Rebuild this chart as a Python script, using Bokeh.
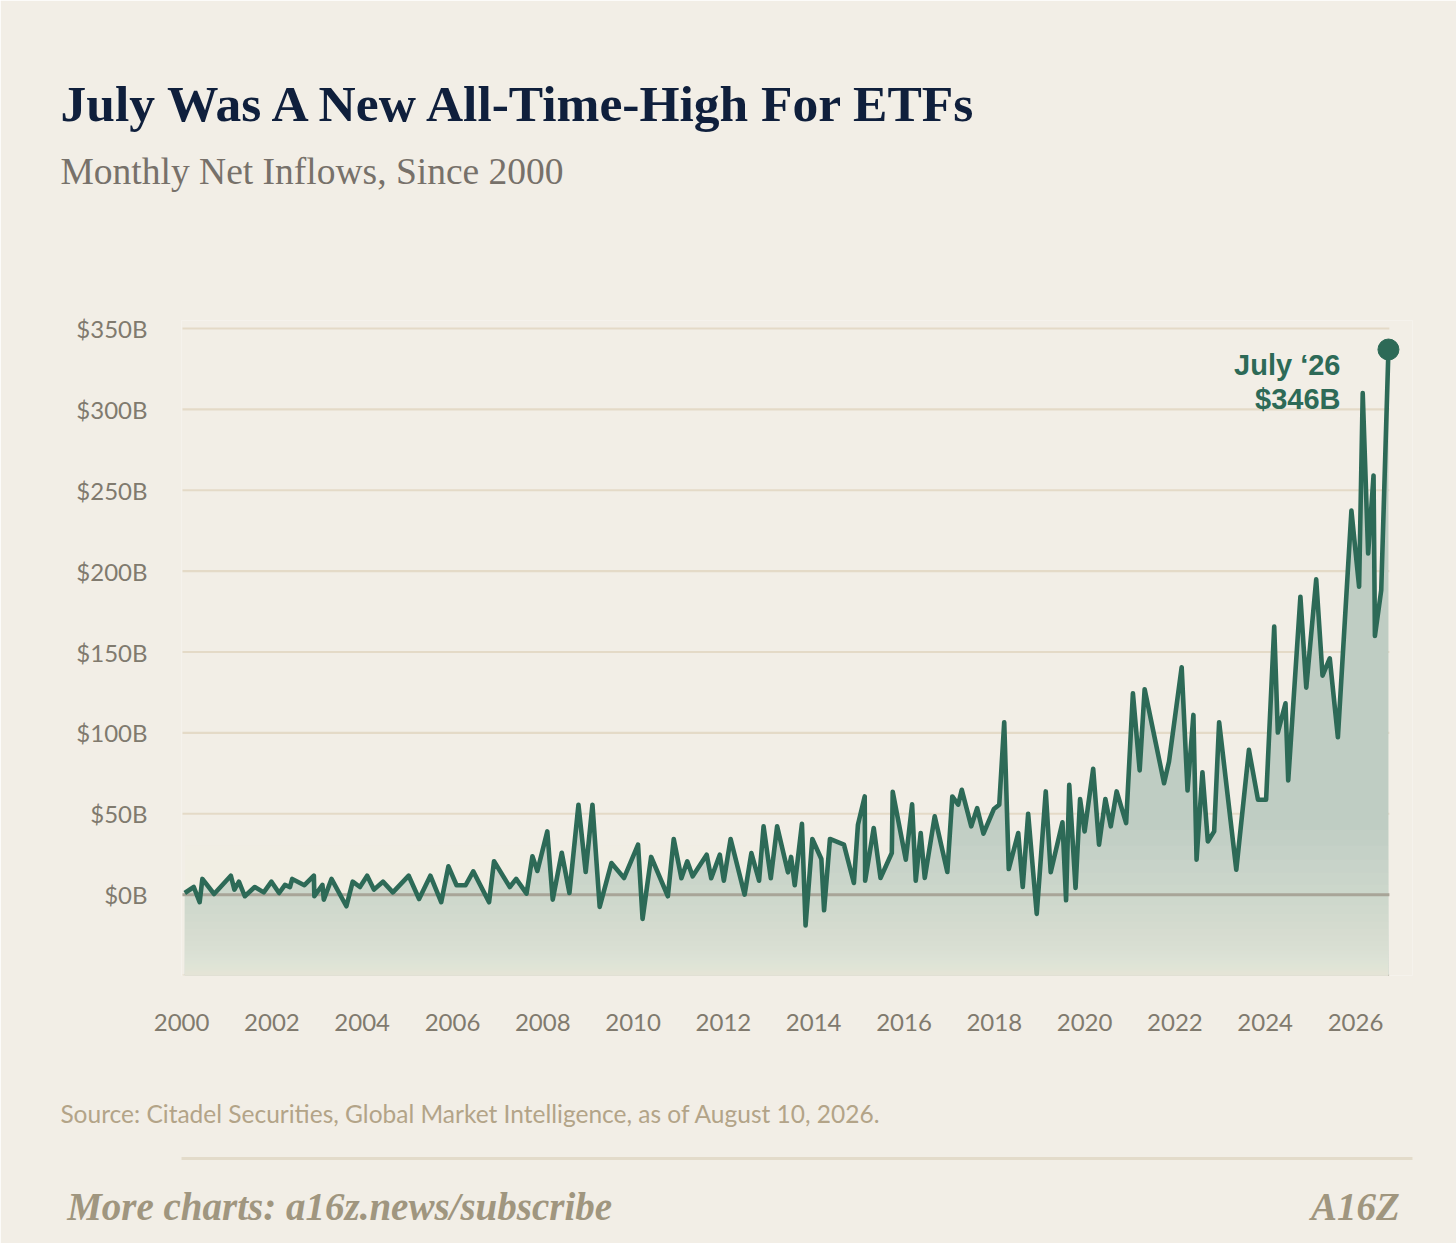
import numpy as np
from bokeh.plotting import figure
from bokeh.models import (Range1d, FixedTicker, PrintfTickFormatter, Label, Title,
                          LinearAxis)
from bokeh.embed import file_html
from bokeh.resources import INLINE

# ---------------- data ----------------
years = [
    2000.07, 2000.27, 2000.40, 2000.46, 2000.72, 2001.09, 2001.17, 2001.27, 2001.40, 2001.62,
    2001.82, 2001.99, 2002.16, 2002.29, 2002.40, 2002.45, 2002.72, 2002.93, 2002.94, 2003.12,
    2003.15, 2003.32, 2003.65, 2003.79, 2003.95, 2004.11, 2004.26, 2004.46, 2004.68, 2005.03,
    2005.26, 2005.51, 2005.75, 2005.91, 2006.09, 2006.29, 2006.46, 2006.81, 2006.92, 2007.27,
    2007.41, 2007.64, 2007.77, 2007.88, 2008.10, 2008.22, 2008.42, 2008.59, 2008.79, 2008.95,
    2009.10, 2009.26, 2009.52, 2009.80, 2010.11, 2010.21, 2010.40, 2010.77, 2010.90, 2011.07,
    2011.20, 2011.32, 2011.63, 2011.73, 2011.92, 2012.01, 2012.16, 2012.47, 2012.62, 2012.79,
    2012.89, 2013.05, 2013.19, 2013.43, 2013.50, 2013.58, 2013.74, 2013.82, 2013.97, 2014.17,
    2014.23, 2014.36, 2014.67, 2014.89, 2014.98, 2015.13, 2015.14, 2015.33, 2015.48, 2015.73,
    2015.75, 2016.04, 2016.18, 2016.26, 2016.37, 2016.46, 2016.68, 2016.96, 2017.07, 2017.20,
    2017.28, 2017.49, 2017.62, 2017.76, 2017.99, 2018.11, 2018.22, 2018.32, 2018.53, 2018.63,
    2018.75, 2018.94, 2019.14, 2019.25, 2019.51, 2019.59, 2019.66, 2019.80, 2019.90, 2020.00,
    2020.19, 2020.32, 2020.46, 2020.58, 2020.71, 2020.92, 2021.07, 2021.22, 2021.33, 2021.76,
    2021.87, 2022.15, 2022.28, 2022.41, 2022.48, 2022.61, 2022.73, 2022.87, 2022.98, 2023.36,
    2023.64, 2023.84, 2024.02, 2024.20, 2024.28, 2024.45, 2024.51, 2024.78, 2024.91, 2025.13,
    2025.27, 2025.43, 2025.61, 2025.91, 2026.08, 2026.16, 2026.28, 2026.40, 2026.43, 2026.57,
    2026.73,
]
inflows_bn = [
    1.0, 4.7, -4.7, 9.7, 0.4, 11.7, 3.1, 8.0, -1.0, 4.7,
    1.4, 8.0, 1.0, 6.0, 4.7, 9.7, 5.8, 11.7, -1.0, 6.0,
    -3.1, 9.7, -7.2, 8.0, 4.7, 11.7, 3.1, 8.0, 1.4, 11.7,
    -2.7, 11.7, -4.7, 17.5, 5.8, 5.8, 14.4, -4.7, 20.6, 4.7,
    9.7, 0.6, 23.7, 14.6, 39.1, -3.1, 25.9, 1.0, 55.6, 14.0,
    55.6, -7.6, 19.5, 10.3, 30.9, -15.0, 23.3, -1.0, 34.4, 10.1,
    20.6, 11.3, 24.7, 10.1, 24.7, 8.6, 34.4, 0.0, 25.7, 8.6,
    42.2, 10.1, 42.2, 13.8, 23.3, 5.8, 43.8, -19.1, 34.4, 22.0,
    -9.7, 34.4, 30.9, 7.2, 43.2, 60.7, 8.6, 41.2, 10.3, 25.7,
    63.6, 21.6, 55.8, 8.6, 38.1, 10.3, 48.4, 14.0, 60.7, 55.6,
    64.8, 42.2, 53.5, 37.7, 52.9, 55.6, 106.6, 15.8, 38.1, 4.7,
    50.0, -11.9, 63.8, 13.8, 44.7, -3.5, 67.9, 4.1, 59.1, 39.1,
    77.8, 30.9, 59.1, 42.2, 63.8, 44.2, 124.5, 76.8, 127.0, 68.9,
    82.3, 140.6, 64.4, 111.1, 21.6, 75.7, 32.9, 39.1, 106.6, 15.4,
    89.5, 58.7, 58.7, 165.7, 100.2, 118.3, 70.6, 184.2, 128.0, 194.9,
    135.4, 146.1, 97.3, 237.4, 190.3, 310.1, 210.9, 259.1, 159.9, 188.2,
    337.0,
]
y_tick_values = [0, 50, 100, 150, 200, 250, 300, 350]
grid_levels = [-50, 0, 50, 100, 150, 200, 250, 300, 350]
x_tick_years = list(range(2000, 2027, 2))

title_text = "July Was A New All-Time-High For ETFs"
subtitle_text = "Monthly Net Inflows, Since 2000"
callout_lines = ["July \u201826", "$346B"]
source_text = "Source: Citadel Securities, Global Market Intelligence, as of August 10, 2026."
footer_text = "More charts: a16z.news/subscribe"
logo_text = "A16Z"

# ---------------- style / layout ----------------
BG = "#f2eee6"
GREEN = "#2d6a57"
FILL = "#bfcdc3"
GRID = "#e4dac7"
ZERO = "#a8a598"
TICK = "#807a6e"

W, H = 1456, 1243
BL, BR, BT, BB = 181, 44, 320, 268
frame_w = W - BL - BR
frame_h = H - BT - BB
PX_PER_YEAR = 45.15
PX_PER_BN = 1.6175
x_start = 2000 - 0.002
x_end = x_start + frame_w / PX_PER_YEAR
y_start = -50
y_end = 350 + 8 / PX_PER_BN

p = figure(width=W, height=H, x_range=Range1d(x_start, x_end),
           y_range=Range1d(y_start, y_end), output_backend="svg",
           toolbar_location=None, title_location=None,
           min_border_left=BL, min_border_right=BR, min_border_top=BT,
           min_border_bottom=BB, background_fill_color=BG,
           border_fill_color=BG, outline_line_color=None)
p.xgrid.visible = False
p.ygrid.visible = False


def plain(ax, standoff=0, tick_out=0):
    ax.axis_line_color = None
    ax.major_tick_line_color = None
    ax.minor_tick_line_color = None
    ax.major_tick_out = tick_out
    ax.major_tick_in = 0
    ax.major_label_standoff = standoff


def spacer_axis(gap):
    # an invisible axis whose single blank label reserves `gap` pixels
    ax = LinearAxis(ticker=FixedTicker(ticks=[2013.0]),
                    major_label_overrides={2013.0: " "})
    plain(ax, standoff=gap)
    ax.major_label_text_font_size = "2px"
    ax.major_label_text_color = BG
    return ax


xax = p.xaxis[0]
yax = p.yaxis[0]
for ax in (xax, yax):
    plain(ax)
    ax.major_label_text_font = "Lato"
    ax.major_label_text_font_size = "24px"
    ax.major_label_text_color = TICK

yax.ticker = FixedTicker(ticks=y_tick_values)
yax.formatter = PrintfTickFormatter(format="$%dB")
yax.major_label_standoff = 34
xax.ticker = FixedTicker(ticks=x_tick_years)
xax.formatter = PrintfTickFormatter(format="%d")
xax.major_label_standoff = 38

last_x = years[-1]
n_grid = len(grid_levels)
p.segment(x0=[years[0] - 0.05] * n_grid, y0=grid_levels, x1=[last_x + 0.02] * n_grid,
          y1=grid_levels, line_color=GRID, line_width=2.2)

# area under the line, down to the bottom of the axis
p.varea(x=years, y1=[y_start] * len(years), y2=inflows_bn, fill_color=FILL)

# soft vertical fade toward the bottom (stacked translucent bands)
N = 40
s = np.linspace(0.03, 1.0, N)
tops = y_start + 90 * s ** 4.5
p.quad(left=years[0], right=last_x, bottom=y_start, top=tops,
       fill_color=BG, fill_alpha=0.07, line_color=None)

p.segment(x0=[years[0] - 0.05], y0=[0], x1=[last_x + 0.02], y1=[0],
          line_color=ZERO, line_width=3)

p.line(years, inflows_bn, line_color=GREEN, line_width=4.6, line_join="round")
p.scatter([years[-1]], [inflows_bn[-1]], size=21, color=GREEN)

# callout (inside the frame)
FRAME_BOTTOM = H - BB
for txt, yb in zip(callout_lines, (364, 398)):
    p.add_layout(Label(x=1340 - BL, y=FRAME_BOTTOM - yb, x_units="screen",
                       y_units="screen", text=txt, text_font="Liberation Sans",
                       text_font_size="29px", text_color=GREEN,
                       text_font_style="bold", text_align="right",
                       text_baseline="alphabetic"))

# ---------- above the frame: spacer, subtitle, title ----------
p.add_layout(spacer_axis(124), "above")
p.add_layout(Title(text=subtitle_text, align="left", offset=60 - BL, standoff=0,
                   text_font="Liberation Serif", text_font_size="37.5px",
                   text_color="#77716a", text_font_style="normal"), "above")
p.add_layout(Title(text=title_text, align="left", offset=60 - BL, standoff=34,
                   text_font="Liberation Serif", text_font_size="51.5px",
                   text_color="#0f1f3c", text_font_style="bold"), "above")

# ---------- below the x axis: source line, spacer, footer row ----------
source_tick = [2006.4]
sax = LinearAxis(ticker=FixedTicker(ticks=source_tick),
                 major_label_overrides={source_tick[0]: source_text})
plain(sax, standoff=65)
sax.major_label_text_font = "Lato"
sax.major_label_text_font_size = "24.5px"
sax.major_label_text_color = "#b3a488"
p.add_layout(sax, "below")

p.add_layout(spacer_axis(23), "below")

footer_ticks = [2003.5, 2026.0]
fax = LinearAxis(ticker=FixedTicker(ticks=footer_ticks),
                 major_label_overrides={footer_ticks[0]: footer_text,
                                        footer_ticks[1]: logo_text})
plain(fax, standoff=26)
fax.axis_line_color = "#e3dbca"
fax.axis_line_width = 3
fax.major_label_text_font = "Liberation Serif"
fax.major_label_text_font_style = "bold italic"
fax.major_label_text_font_size = "39px"
fax.major_label_text_color = "#a0967f"
p.add_layout(fax, "below")

open("out.html", "w").write(file_html(p, INLINE))
